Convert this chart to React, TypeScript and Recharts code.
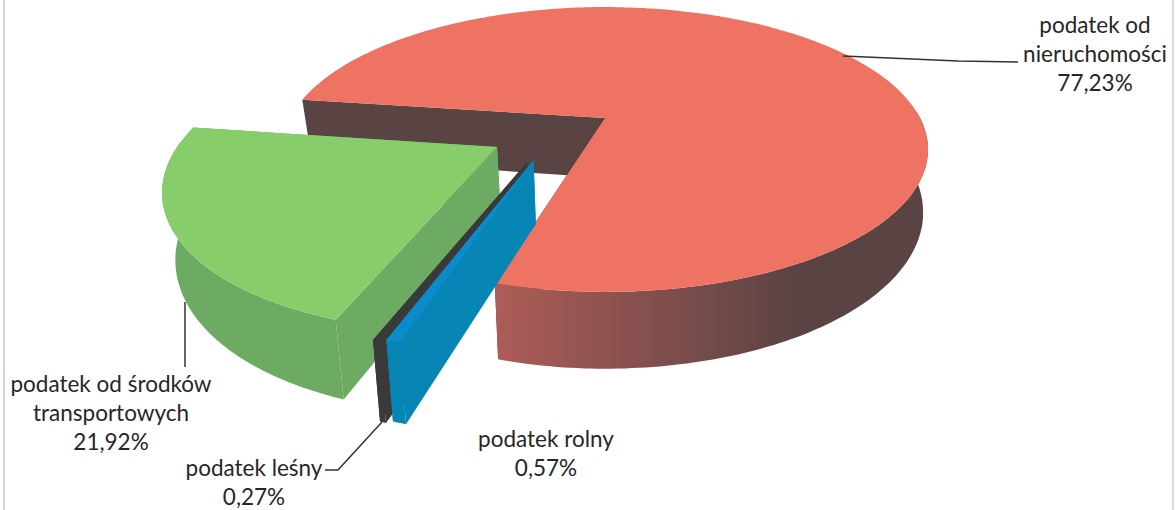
import { Pie, PieChart } from "recharts";

// slices run anticlockwise from the front edge of the big red one, so they paint back to front
const categories = [
  "podatek od nieruchomości",
  "podatek od środków transportowych",
  "podatek leśny",
  "podatek rolny",
];
const shares = [77.23, 21.92, 0.27, 0.57];
const labelLines = [
  ["podatek od", "nieruchomości"],
  ["podatek od środków", "transportowych"],
  ["podatek leśny"],
  ["podatek rolny"],
];

const topColors = ["#EE7362", "#87CE6B", "#3A3A3A", "#0A8CCB"];
const wallColors = ["url(#redWall)", "#6DAB62", "#3A3A3A", "#0785B5"];
const innerWallColors = ["#5A4343", "#6DAB62", "#3A3A3A", "#0785B5"];

// explosion of each slice, in units of the pie radius on the table plane
const explode = [
  [0, 0],
  [-0.327, 0.204],
  [-0.231, 0.305],
  [-0.212, 0.29],
];
const sliceRadius = [1, 0.97, 0.95, 0.96];

const labelAnchors = [
  { x: 1095, y: 33 },
  { x: 111, y: 392 },
  { x: 254, y: 476 },
  { x: 546, y: 447 },
];
const leaders = [
  "M843 56 L958 61 L1018 62",
  "M185 302 L185 367",
  "M325 470 L338 470 L382 422",
  "",
];

const TILT = 0.221;
const FLATTEN = 0.43;
const DEPTH = 0.19;
const SQUEEZE_LEFT = 0.97;
const SQUEEZE_RIGHT = 0.985;

const data = categories.map((name, i) => ({ name, value: shares[i] }));

function fmtPct(v: number): string {
  return `${v.toFixed(2).replace(".", ",")}%`;
}

function project(p: any, u: number, v: number, lower: boolean) {
  const [ou, ov] = explode[p.index];
  const wu = u + ou;
  const wv = v + ov;
  const f = 1 / (1 - TILT * wv);
  const squeeze = !lower ? 1 : wu < 0 ? SQUEEZE_LEFT : SQUEEZE_RIGHT;
  return [
    p.cx + p.outerRadius * wu * f * squeeze,
    p.cy + p.outerRadius * FLATTEN * wv * f + (lower ? p.outerRadius * DEPTH * f : 0),
  ];
}

function rimAngles(p: any): number[] {
  const steps = Math.max(2, Math.ceil(Math.abs(p.endAngle - p.startAngle)));
  const out: number[] = [];
  for (let i = 0; i <= steps; i++) {
    out.push(((p.startAngle + ((p.endAngle - p.startAngle) * i) / steps) * Math.PI) / 180);
  }
  return out;
}

function rimPoint(p: any, a: number, lower: boolean) {
  const r = sliceRadius[p.index];
  return project(p, r * Math.cos(a), -r * Math.sin(a), lower);
}

function toPath(pts: number[][]): string {
  return `M${pts.map((q) => `${q[0].toFixed(1)} ${q[1].toFixed(1)}`).join("L")}Z`;
}

function Slice(p: any) {
  const angles = rimAngles(p);
  const top = angles.map((a) => rimPoint(p, a, false));
  // only the part of the rim that faces the viewer gets a wall
  const front = angles.filter((a) => Math.sin(a) < 0.05);
  const frontTop = front.map((a) => rimPoint(p, a, false));
  const frontBottom = front.map((a) => rimPoint(p, a, true)).reverse();
  const first = angles[0];
  const last = angles[angles.length - 1];
  const apexTop = project(p, 0, 0, false);
  const apexBottom = project(p, 0, 0, true);
  return (
    <g>
      {p.index === 0 && (
        <defs>
          <linearGradient id="redWall" gradientUnits="userSpaceOnUse" x1="497" y1="0" x2="800" y2="0">
            <stop offset="0%" stopColor="#AD5C57" />
            <stop offset="100%" stopColor="#5A4343" />
          </linearGradient>
        </defs>
      )}
      <path
        d={toPath([apexTop, rimPoint(p, first, false), rimPoint(p, first, true), apexBottom])}
        fill={innerWallColors[p.index]}
      />
      <path
        d={toPath([apexTop, rimPoint(p, last, false), rimPoint(p, last, true), apexBottom])}
        fill={innerWallColors[p.index]}
      />
      {front.length > 1 && <path d={toPath([...frontTop, ...frontBottom])} fill={wallColors[p.index]} />}
      <path d={toPath([apexTop, ...top])} fill={topColors[p.index]} />
    </g>
  );
}

function SliceLabel(p: any) {
  const i = p.index;
  const { x, y } = labelAnchors[i];
  const lines = [...labelLines[i], fmtPct(shares[i])];
  return (
    <g>
      {leaders[i] && <path d={leaders[i]} fill="none" stroke="#333" strokeWidth={1.5} />}
      <text
        x={x}
        y={y}
        textAnchor="middle"
        fontFamily="Lato"
        fontSize={22.5}
        fill="#262626"
        stroke="none"
      >
        {lines.map((line, k) => (
          <tspan key={k} x={x} y={y + k * 29}>
            {line}
          </tspan>
        ))}
      </text>
    </g>
  );
}

export default function App() {
  return (
    <div style={{ position: "absolute", left: 0, top: 0, width: 1175, height: 510, background: "#fff" }}>
      <div style={{ position: "absolute", left: 3, top: 0, width: 2, height: 510, background: "#d4d4d4" }} />
      <div style={{ position: "absolute", left: 1172, top: 0, width: 2, height: 510, background: "#dcdcdc" }} />
      <PieChart width={1175} height={510} margin={{ top: 0, right: 0, bottom: 0, left: 0 }}>
        <Pie
          data={data}
          dataKey="value"
          nameKey="name"
          cx={605}
          cy={118}
          outerRadius={315}
          startAngle={-106}
          endAngle={254}
          shape={Slice}
          label={SliceLabel}
          labelLine={false}
          isAnimationActive={false}
        />
      </PieChart>
    </div>
  );
}
